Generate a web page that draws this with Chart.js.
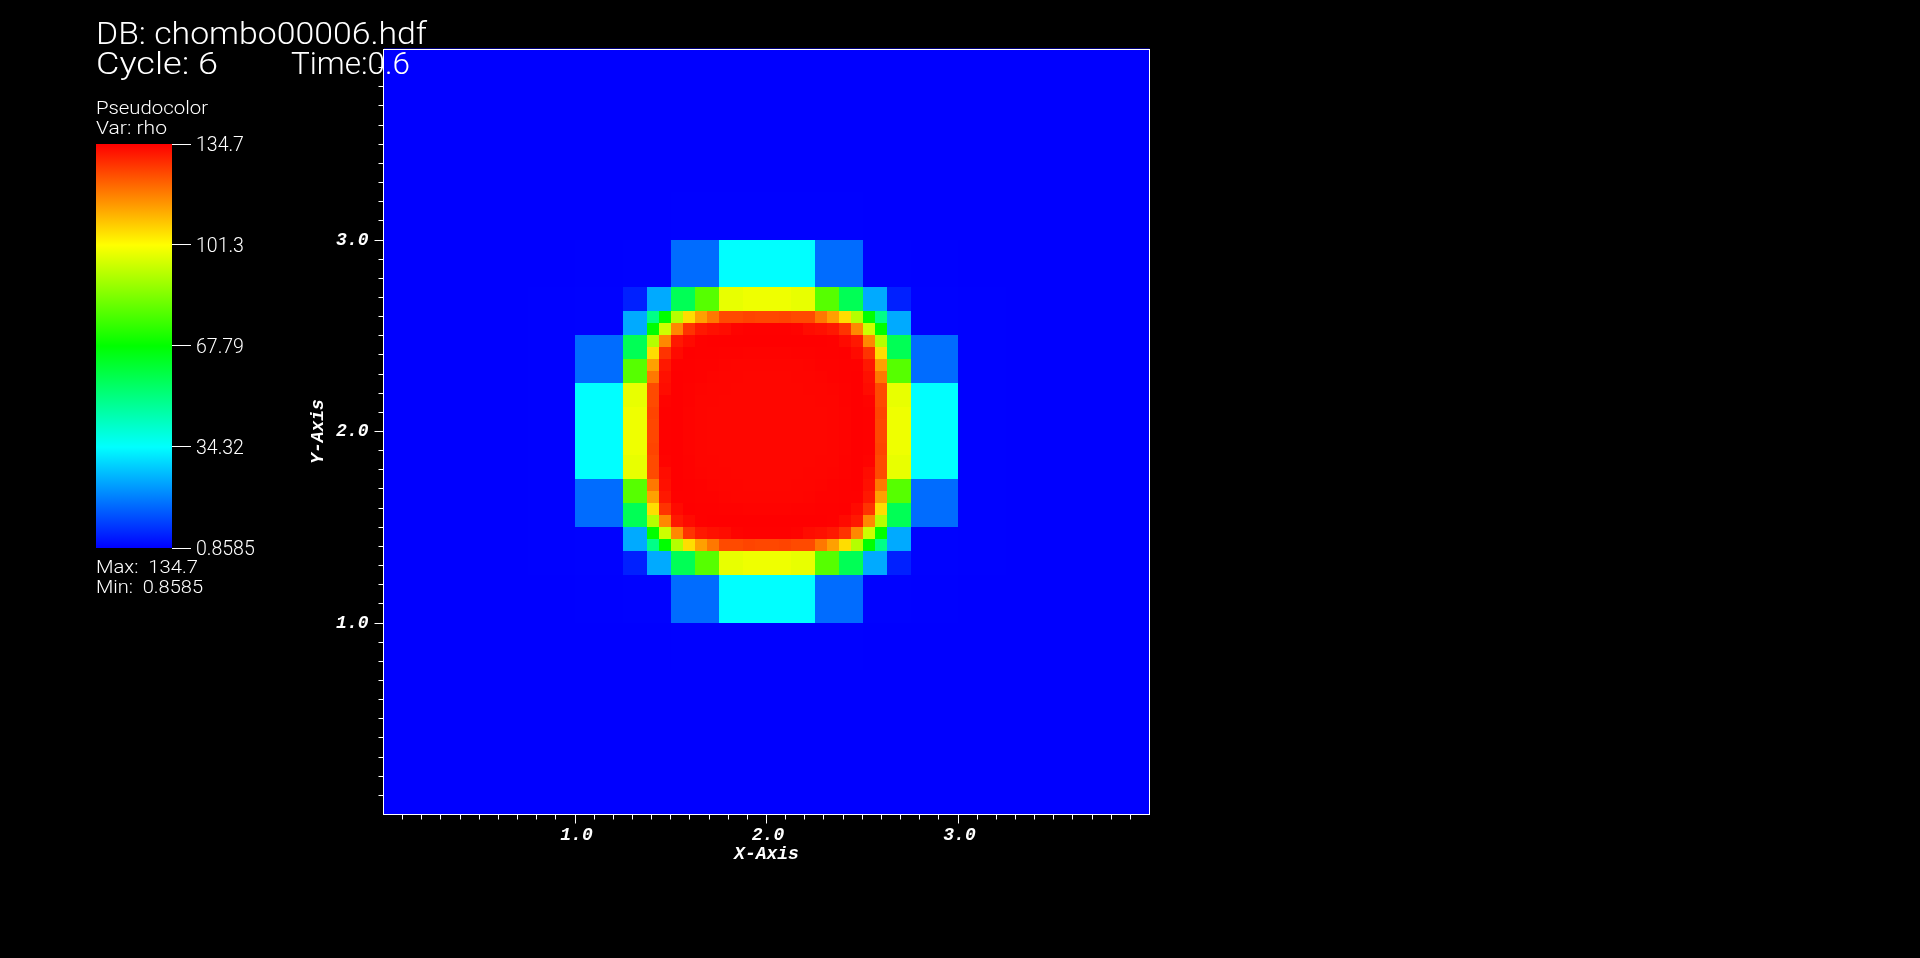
<!DOCTYPE html>
<html><head><meta charset="utf-8">
<script src="https://cdn.jsdelivr.net/npm/chart.js@4/dist/chart.umd.min.js"></script>
<style>
html,body{margin:0;padding:0;background:#000;width:1920px;height:958px;overflow:hidden}
canvas{position:absolute;display:block}
#main{left:0;top:0}
#bar{left:90px;top:130px}
</style></head><body>
<canvas id="main" width="1920" height="958"></canvas>
<canvas id="bar" width="200" height="430"></canvas>
<script>
const rhoMin = 0.8585;
const rhoMax = 134.7;
const colorStops = [[0,0,255],[0,255,255],[0,255,0],[255,255,0],[255,0,0]];
const legendTicks = [0.8585,34.32,67.79,101.3,134.7];
const legendLabels = ['0.8585','34.32','67.79','101.3','134.7'];
const majorTicks = [1,2,3];
const minorTicks = [0.1,0.2,0.3,0.4,0.5,0.6,0.7,0.8,0.9,1.1,1.2,1.3,1.4,1.5,1.6,1.7,1.8,1.9,2.1,2.2,2.3,2.4,2.5,2.6,2.7,2.8,2.9,3.1,3.2,3.3,3.4,3.5,3.6,3.7,3.8,3.9];

// AMR level 0: 16 x 16 cells, 0.25 wide, covering 0..4 (first row is the top)
const coarseRho = [
[0.86,0.86,0.86,0.86,0.86,0.86,0.86,0.86,0.86,0.86,0.86,0.86,0.86,0.86,0.86,0.86],
[0.86,0.86,0.86,0.86,0.86,0.86,0.86,0.86,0.86,0.86,0.86,0.86,0.86,0.86,0.86,0.86],
[0.86,0.86,0.86,0.86,0.86,0.86,0.86,0.86,0.86,0.86,0.86,0.86,0.86,0.86,0.86,0.86],
[0.86,0.86,0.86,0.86,0.86,0.9,0.95,0.95,0.95,0.95,0.9,0.86,0.86,0.86,0.86,0.86],
[0.86,0.86,0.86,0.9,1.0,1.12,15,34.3,34.3,15,1.12,1.0,0.9,0.86,0.86,0.86],
[0.86,0.86,0.86,0.95,1.12,1.12,1.12,1.12,1.12,1.12,1.12,1.12,0.95,0.86,0.86,0.86],
[0.86,0.86,0.86,0.95,15,1.12,1.12,1.12,1.12,1.12,1.12,15,0.95,0.86,0.86,0.86],
[0.86,0.86,0.86,0.95,34.3,1.12,1.12,1.12,1.12,1.12,1.12,34.3,0.95,0.86,0.86,0.86],
[0.86,0.86,0.86,0.95,34.3,1.12,1.12,1.12,1.12,1.12,1.12,34.3,0.95,0.86,0.86,0.86],
[0.86,0.86,0.86,0.95,15,1.12,1.12,1.12,1.12,1.12,1.12,15,0.95,0.86,0.86,0.86],
[0.86,0.86,0.86,0.95,1.12,1.12,1.12,1.12,1.12,1.12,1.12,1.12,0.95,0.86,0.86,0.86],
[0.86,0.86,0.86,0.9,1.0,1.12,15,34.3,34.3,15,1.12,1.0,0.9,0.86,0.86,0.86],
[0.86,0.86,0.86,0.86,0.86,0.9,0.95,0.95,0.95,0.95,0.9,0.86,0.86,0.86,0.86,0.86],
[0.86,0.86,0.86,0.86,0.86,0.86,0.86,0.86,0.86,0.86,0.86,0.86,0.86,0.86,0.86,0.86],
[0.86,0.86,0.86,0.86,0.86,0.86,0.86,0.86,0.86,0.86,0.86,0.86,0.86,0.86,0.86,0.86],
[0.86,0.86,0.86,0.86,0.86,0.86,0.86,0.86,0.86,0.86,0.86,0.86,0.86,0.86,0.86,0.86]
];
// AMR level 1: 12 x 12 cells, 0.125 wide, covering 1.25..2.75 (null: refined further)
const mediumRho = [
[5,23.2,56.6,79,98.2,99.2,99.2,98.2,79,56.6,23.2,5],
[23.2,null,null,null,null,null,null,null,null,null,null,23.2],
[56.6,null,null,null,null,null,null,null,null,null,null,56.6],
[79,null,null,null,null,null,null,null,null,null,null,79],
[98.2,null,null,null,null,null,null,null,null,null,null,98.2],
[99.2,null,null,null,null,null,null,null,null,null,null,99.2],
[99.2,null,null,null,null,null,null,null,null,null,null,99.2],
[98.2,null,null,null,null,null,null,null,null,null,null,98.2],
[79,null,null,null,null,null,null,null,null,null,null,79],
[56.6,null,null,null,null,null,null,null,null,null,null,56.6],
[23.2,null,null,null,null,null,null,null,null,null,null,23.2],
[5,23.2,56.6,79,98.2,99.2,99.2,98.2,79,56.6,23.2,5]
];
// AMR level 2: 20 x 20 cells, 0.0625 wide, covering 1.375..2.625
const fineRho = [
[50,67.8,91.4,105.7,113.7,119,125,125,125.8,125.4,125.4,125.8,125,125,119,113.7,105.7,91.4,67.8,50],
[67.8,94.5,116.9,128,131.5,132.6,133.1,134.3,134.6,134.6,134.6,134.6,134.3,133.1,132.6,131.5,128,116.9,94.5,67.8],
[91.4,116.9,131.5,133.4,134.6,134.7,134.7,134.7,134.7,134.7,134.7,134.7,134.7,134.7,134.7,134.6,133.4,131.5,116.9,91.4],
[105.7,128,133.4,134.7,134.6,134.6,134.4,134.4,134.3,134.3,134.3,134.3,134.4,134.4,134.6,134.6,134.7,133.4,128,105.7],
[113.7,131.5,134.6,134.6,134.5,134.4,134.2,134.1,134,134,134,134,134.1,134.2,134.4,134.5,134.6,134.6,131.5,113.7],
[119,132.6,134.7,134.6,134.4,134.2,134.1,134,133.9,133.9,133.9,133.9,134,134.1,134.2,134.4,134.6,134.7,132.6,119],
[125,133.1,134.7,134.4,134.2,134.1,134,133.9,133.9,133.9,133.9,133.9,133.9,134,134.1,134.2,134.4,134.7,133.1,125],
[125,134.3,134.7,134.4,134.1,134,133.9,133.9,133.9,133.9,133.9,133.9,133.9,133.9,134,134.1,134.4,134.7,134.3,125],
[125.8,134.6,134.7,134.3,134,133.9,133.9,133.9,133.9,133.9,133.9,133.9,133.9,133.9,133.9,134,134.3,134.7,134.6,125.8],
[125.4,134.6,134.7,134.3,134,133.9,133.9,133.9,133.9,133.9,133.9,133.9,133.9,133.9,133.9,134,134.3,134.7,134.6,125.4],
[125.4,134.6,134.7,134.3,134,133.9,133.9,133.9,133.9,133.9,133.9,133.9,133.9,133.9,133.9,134,134.3,134.7,134.6,125.4],
[125.8,134.6,134.7,134.3,134,133.9,133.9,133.9,133.9,133.9,133.9,133.9,133.9,133.9,133.9,134,134.3,134.7,134.6,125.8],
[125,134.3,134.7,134.4,134.1,134,133.9,133.9,133.9,133.9,133.9,133.9,133.9,133.9,134,134.1,134.4,134.7,134.3,125],
[125,133.1,134.7,134.4,134.2,134.1,134,133.9,133.9,133.9,133.9,133.9,133.9,134,134.1,134.2,134.4,134.7,133.1,125],
[119,132.6,134.7,134.6,134.4,134.2,134.1,134,133.9,133.9,133.9,133.9,134,134.1,134.2,134.4,134.6,134.7,132.6,119],
[113.7,131.5,134.6,134.6,134.5,134.4,134.2,134.1,134,134,134,134,134.1,134.2,134.4,134.5,134.6,134.6,131.5,113.7],
[105.7,128,133.4,134.7,134.6,134.6,134.4,134.4,134.3,134.3,134.3,134.3,134.4,134.4,134.6,134.6,134.7,133.4,128,105.7],
[91.4,116.9,131.5,133.4,134.6,134.7,134.7,134.7,134.7,134.7,134.7,134.7,134.7,134.7,134.7,134.6,133.4,131.5,116.9,91.4],
[67.8,94.5,116.9,128,131.5,132.6,133.1,134.3,134.6,134.6,134.6,134.6,134.3,133.1,132.6,131.5,128,116.9,94.5,67.8],
[50,67.8,91.4,105.7,113.7,119,125,125,125.8,125.4,125.4,125.8,125,125,119,113.7,105.7,91.4,67.8,50]
];
const annotations = [
  {text:'DB: chombo00006.hdf', x:96,  y:44,  size:31, width:331},
  {text:'Cycle: 6',            x:96,  y:74,  size:31, width:122},
  {text:'Time:0.6',            x:291, y:74,  size:31, width:119},
  {text:'Pseudocolor',         x:96,  y:114, size:18, width:112},
  {text:'Var: rho',            x:96,  y:134, size:18, width:71},
  {text:'Max:  134.7',         x:96,  y:573, size:18, width:102},
  {text:'Min:  0.8585',        x:96,  y:593, size:18, width:107}
];

const THIN_FONT = 'Roboto';
const AXIS_FONT = {family:'"Liberation Mono"', size:18, style:'italic', weight:'bold', lineHeight:1.2};

function rhoColor(v){
  const t = Math.min(1,Math.max(0,(v-rhoMin)/(rhoMax-rhoMin)))*(colorStops.length-1);
  const i = Math.min(colorStops.length-2,Math.floor(t)), f = t-i;
  const c = colorStops[i].map((a,k)=>Math.round(a+(colorStops[i+1][k]-a)*f));
  return `rgb(${c[0]},${c[1]},${c[2]})`;
}
function cellDataset(grid, x0, yTop, size, label, order){
  const data=[], colors=[];
  grid.forEach((row,r)=>row.forEach((v,c)=>{
    if(v===null) return;
    data.push({x:x0+(c+0.5)*size, y:[yTop-(r+1)*size, yTop-r*size], rho:v});
    colors.push(rhoColor(v));
  }));
  return {label, data, order, backgroundColor:colors, borderWidth:0, inflateAmount:0, cellSize:size, grouped:false, barPercentage:1, categoryPercentage:1};
}
const setTicks = vals => s => { s.ticks = vals.map(v=>({value:v})); };

// Cells get whole-pixel edges, taken from the axis, as the original raster has them.
const snapCells = {
  id:'snapCells',
  afterDatasetsUpdate(chart){
    const xs = chart.scales.x;
    chart.data.datasets.forEach((ds,di)=>{
      chart.getDatasetMeta(di).data.forEach((el,i)=>{
        const p = chart.getDatasetMeta(di)._parsed[i];
        const l = Math.ceil(xs.getPixelForValue(p.x-ds.cellSize/2)-1e-6);
        const r = Math.ceil(xs.getPixelForValue(p.x+ds.cellSize/2)-1e-6);
        el.x=(l+r)/2; el.width=r-l;
        el.y=Math.floor(el.y+1e-6); el.base=Math.floor(el.base+1e-6);
        el.height=el.base-el.y;
      });
    });
  }
};
const frameAndText = {
  id:'frameAndText',
  afterDraw(chart){
    const {ctx,chartArea:a} = chart;
    ctx.save();
    ctx.strokeStyle='#fff'; ctx.lineWidth=1;
    const l=Math.floor(a.left), t0=Math.ceil(a.top), r=Math.floor(a.right), b=Math.floor(a.bottom);
    ctx.strokeRect(l+0.5,t0+0.5,r-l,b-t0);
    ctx.fillStyle='#fff'; ctx.textBaseline='alphabetic'; ctx.textAlign='left';
    annotations.forEach(t=>{
      ctx.font=`300 ${t.size}px ${THIN_FONT}`;
      const sx=t.width/ctx.measureText(t.text).width;
      ctx.save();
      ctx.translate(t.x,t.y); ctx.scale(sx,1);
      ctx.fillText(t.text,0,0);
      ctx.restore();
    });
    ctx.restore();
  }
};
// Small label nudges onto the reference positions, applied to the axis's own label items.
const nudge = (axis,dx,dy) => ({
  id:'nudge'+axis,
  beforeDraw(chart){
    chart.scales[axis].getLabelItems().forEach(it=>{
      const tr=it.options.translation;
      it.options.translation=[tr[0]+dx,tr[1]+dy];
    });
  }
});
const tickGrid = len => ({drawOnChartArea:false, drawTicks:true, tickLength:len, tickColor:'#fff', tickWidth:1, offset:false, color:'#fff'});

new Chart(document.getElementById('main'),{
  type:'bar',
  data:{datasets:[
    cellDataset(coarseRho,0,4,0.25,'rho level 0',3),
    cellDataset(mediumRho,1.25,2.75,0.125,'rho level 1',2),
    cellDataset(fineRho,1.375,2.625,0.0625,'rho level 2',1)
  ]},
  options:{
    responsive:false, animation:false, devicePixelRatio:1,
    layout:{padding:{left:307.5,top:48.5,right:770.5,bottom:92.5}},
    plugins:{legend:{display:false},tooltip:{enabled:false},title:{display:false}},
    scales:{
      x:{type:'linear',position:'bottom',weight:1,min:0,max:4,offset:false,
         grid:tickGrid(9),border:{display:false},
         afterBuildTicks:setTicks(majorTicks),afterFit(s){s.height=51;},
         ticks:{color:'#fff',font:AXIS_FONT,padding:1,autoSkip:false,maxRotation:0,callback:v=>v.toFixed(1)},
         title:{display:true,text:'X-Axis',color:'#fff',font:AXIS_FONT,padding:0}},
      xMinor:{type:'linear',axis:'x',position:'bottom',weight:0,min:0,max:4,offset:false,
         grid:tickGrid(5),border:{display:false},
         afterBuildTicks:setTicks(minorTicks),afterFit(s){s.height=0;},
         ticks:{display:false}},
      y:{type:'linear',position:'left',weight:1,min:0,max:4,stacked:false,
         grid:tickGrid(9),border:{display:false},
         afterBuildTicks:setTicks(majorTicks),afterFit(s){s.width=76;},
         ticks:{color:'#fff',font:AXIS_FONT,padding:6,autoSkip:false,callback:v=>v.toFixed(1)},
         title:{display:true,text:'Y-Axis',color:'#fff',font:AXIS_FONT,padding:0}},
      yMinor:{type:'linear',axis:'y',position:'left',weight:0,min:0,max:4,
         grid:tickGrid(5),border:{display:false},
         afterBuildTicks:setTicks(minorTicks),afterFit(s){s.width=0;},
         ticks:{display:false}}
    }
  },
  plugins:[snapCells,nudge('x',1.5,0),frameAndText]
});

new Chart(document.getElementById('bar'),{
  type:'bar',
  data:{labels:['rho'],datasets:[{
    label:'rho colour scale',
    data:[[rhoMin,rhoMax]],
    borderWidth:0,inflateAmount:0,barPercentage:1,categoryPercentage:1,
    backgroundColor(c){
      const a=c.chart.chartArea; if(!a) return '#000';
      const g=c.chart.ctx.createLinearGradient(0,a.bottom,0,a.top);
      colorStops.forEach((s,i)=>g.addColorStop(i/(colorStops.length-1),`rgb(${s[0]},${s[1]},${s[2]})`));
      return g;
    }
  }]},
  options:{
    responsive:false,animation:false,devicePixelRatio:1,
    layout:{padding:{left:6,top:14,right:0,bottom:12}},
    plugins:{legend:{display:false},tooltip:{enabled:false}},
    scales:{
      x:{display:false},
      y:{position:'right',min:rhoMin,max:rhoMax,
         grid:tickGrid(19),border:{display:false},
         afterBuildTicks:setTicks(legendTicks),
         afterFit(s){s.width=118;s.paddingTop=0;s.paddingBottom=0;},
         ticks:{color:'#fff',autoSkip:false,padding:5,align:'center',crossAlign:'near',
           font:{family:THIN_FONT,size:19.5,weight:'300'},
           callback:v=>legendLabels[legendTicks.indexOf(v)]}}
    }
  },
  plugins:[nudge('y',0,2.5)]
});
</script>
</body></html>
